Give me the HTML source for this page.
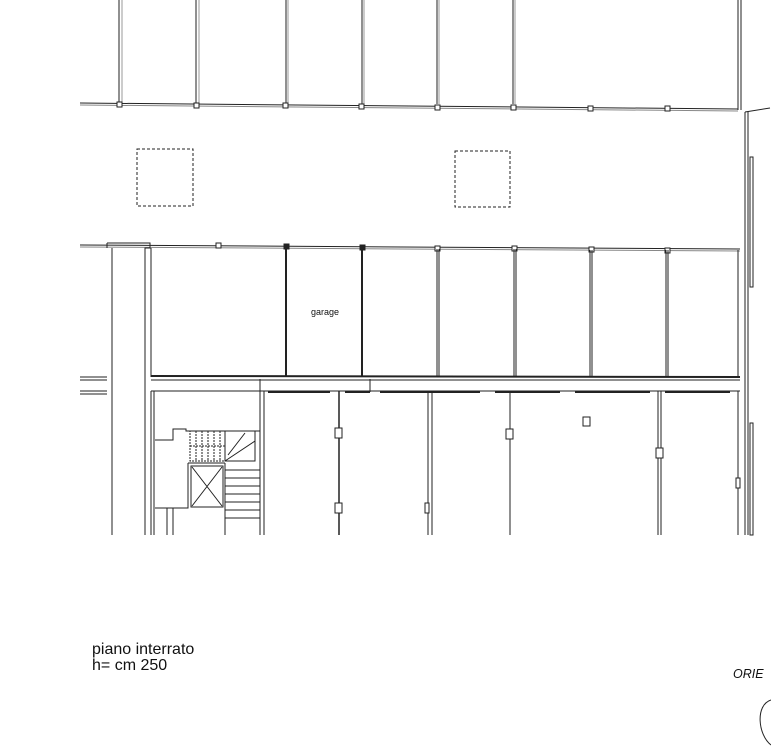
<!DOCTYPE html>
<html><head><meta charset="utf-8"><style>
html,body{margin:0;padding:0;background:#fff;}
svg{display:block}
</style></head><body>
<svg width="771" height="746" viewBox="0 0 771 746" xmlns="http://www.w3.org/2000/svg">
<g fill="none" stroke="#222" stroke-width="1">
<g>
<line x1="119" y1="0" x2="119" y2="104"/><line x1="122" y1="0" x2="122" y2="104" stroke="#999"/>
<line x1="196" y1="0" x2="196" y2="104"/><line x1="199" y1="0" x2="199" y2="104" stroke="#999"/>
<line x1="286" y1="0" x2="286" y2="104"/><line x1="288" y1="0" x2="288" y2="104" stroke="#999"/>
<line x1="362" y1="0" x2="362" y2="104"/><line x1="364" y1="0" x2="364" y2="104" stroke="#999"/>
<line x1="437" y1="0" x2="437" y2="104"/><line x1="439" y1="0" x2="439" y2="104" stroke="#999"/>
<line x1="513" y1="0" x2="513" y2="104"/><line x1="515" y1="0" x2="515" y2="104" stroke="#999"/>
<line x1="738" y1="0" x2="738" y2="110"/><line x1="741" y1="0" x2="741" y2="110"/>
</g>
<line x1="80" y1="103" x2="738" y2="109"/><line x1="80" y1="105" x2="738" y2="111" stroke="#888"/>
<path d="M745 112 L770 108"/>
<g fill="#fff">
<rect x="117" y="102" width="5" height="5"/><rect x="194" y="103" width="5" height="5"/>
<rect x="283" y="103" width="5" height="5"/><rect x="359" y="104" width="5" height="5"/>
<rect x="435" y="105" width="5" height="5"/><rect x="511" y="105" width="5" height="5"/>
<rect x="588" y="106" width="5" height="5"/><rect x="665" y="106" width="5" height="5"/>
</g>
<rect x="137" y="149" width="56" height="57" stroke-dasharray="3,2"/>
<rect x="455" y="151" width="55" height="56" stroke-dasharray="3,2"/>
<line x1="745" y1="112" x2="745" y2="535"/><line x1="748" y1="112" x2="748" y2="535"/>
<rect x="750" y="157" width="3" height="130"/>
<rect x="750" y="423" width="3" height="112"/>
<line x1="80" y1="245" x2="740" y2="249"/><line x1="80" y1="247" x2="740" y2="251" stroke="#888"/>
<path d="M107 243 H150 V248 H145 V535 M112 248 V535 M107 243 V248"/>
<g fill="#fff">
<rect x="216" y="243" width="5" height="5"/><rect x="589" y="247" width="5" height="5"/><rect x="665" y="248" width="5" height="5"/>
<rect x="435" y="246" width="5" height="5"/><rect x="512" y="246" width="5" height="5"/>
</g>
<rect x="284" y="244" width="5" height="5" fill="#222"/><rect x="360" y="245" width="5" height="5" fill="#222"/>
<line x1="151" y1="248" x2="151" y2="377"/>
<line x1="286" y1="248" x2="286" y2="377" stroke-width="2"/>
<line x1="362" y1="248" x2="362" y2="377" stroke-width="2"/>
<line x1="437" y1="249" x2="437" y2="377"/><line x1="439" y1="249" x2="439" y2="377"/>
<line x1="514" y1="249" x2="514" y2="377"/><line x1="516" y1="249" x2="516" y2="377"/>
<line x1="590" y1="250" x2="590" y2="377"/><line x1="592" y1="250" x2="592" y2="377"/>
<line x1="666" y1="250" x2="666" y2="377"/><line x1="668" y1="250" x2="668" y2="377"/>
<line x1="738" y1="250" x2="738" y2="377"/>
<line x1="151" y1="376" x2="740" y2="377" stroke-width="2"/>
<line x1="151" y1="380" x2="740" y2="380"/>
<line x1="151" y1="391" x2="740" y2="391"/>
<path d="M268 392 H330 M345 392 H370 M380 392 H480 M495 392 H560 M575 392 H650 M665 392 H730" stroke-width="2"/>
<path d="M80 377 H107 M80 380 H107 M80 391 H107 M80 394 H107"/>
<line x1="260" y1="379" x2="260" y2="392"/><line x1="370" y1="379" x2="370" y2="392"/>
<path d="M151 391 V535 M154 391 V535"/>
<line x1="260" y1="391" x2="260" y2="535"/><line x1="264" y1="391" x2="264" y2="535"/>
<line x1="339" y1="391" x2="339" y2="535" stroke-width="1.5"/>
<rect x="335" y="428" width="7" height="10" fill="#fff"/><rect x="335" y="503" width="7" height="10" fill="#fff"/>
<line x1="428" y1="391" x2="428" y2="535"/><line x1="432" y1="391" x2="432" y2="535"/>
<rect x="425" y="503" width="4" height="10" fill="#fff"/>
<line x1="510" y1="391" x2="510" y2="535"/>
<rect x="506" y="429" width="7" height="10" fill="#fff"/>
<rect x="583" y="417" width="7" height="9" fill="#fff"/>
<line x1="658" y1="391" x2="658" y2="535"/><line x1="661" y1="391" x2="661" y2="535"/>
<rect x="656" y="448" width="7" height="10" fill="#fff"/>
<line x1="738" y1="391" x2="738" y2="535"/>
<rect x="736" y="478" width="4" height="10" fill="#fff"/>
<path d="M155 440 H173 V429 H186 V431 H260"/>
<rect x="190" y="431" width="35" height="30" stroke-dasharray="2,1"/>
<path d="M196 431 V460 M202 431 V460 M208 431 V460 M214 431 V460 M220 431 V460 M190 446 H225" stroke-dasharray="2,1"/>
<rect x="225" y="431" width="30" height="30"/>
<path d="M225 461 L255 441 M228 455 L245 433"/>
<path d="M188 463 V508 H155 M188 463 H225"/>
<rect x="191" y="466" width="32" height="41"/>
<path d="M192 467 L222 506 M222 467 L192 506"/>
<path d="M225 463 V535 M260 463 V535 M225 470 H260 M225 478 H260 M225 486 H260 M225 494 H260 M225 502 H260 M225 510 H260 M225 518 H260"/>
<path d="M167 508 V535 M173 508 V535"/>
</g>
<text x="325" y="315" font-family="Liberation Sans, sans-serif" font-size="9" text-anchor="middle" fill="#111">garage</text>
<text x="92" y="654" font-family="Liberation Sans, sans-serif" font-size="16" fill="#111">piano interrato</text>
<text x="92" y="670" font-family="Liberation Sans, sans-serif" font-size="16" fill="#111">h= cm 250</text>
<text x="733" y="678" font-family="Liberation Sans, sans-serif" font-size="12.5" font-style="italic" fill="#111">ORIE</text>
<path d="M771 700 C755 705 758 735 771 745" fill="none" stroke="#222"/>
</svg>
</body></html>
